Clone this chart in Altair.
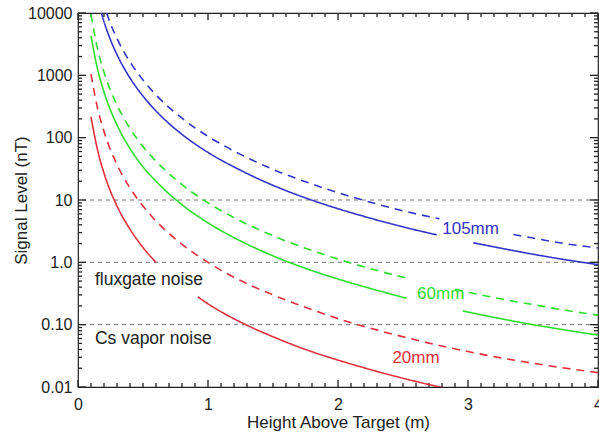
import altair as alt
import pandas as pd

# ---- curve readings: height above target (m) and signal level (nT) ----
# 20 mm object, solid (two pieces, gap around the "fluxgate noise" text)
r_solid_1_h = [0.1, 0.15, 0.2, 0.3, 0.4, 0.5, 0.6]
r_solid_1_v = [216, 64, 27, 8.0, 3.4, 1.73, 1.0]
r_solid_2_h = [0.92, 1.0, 1.25, 1.5, 1.75, 2.0, 2.25, 2.5, 2.8]
r_solid_2_v = [0.28, 0.216, 0.11, 0.064, 0.040, 0.027, 0.019, 0.0138, 0.0098]
# 20 mm object, dashed
r_dash_h = [0.1, 0.15, 0.2, 0.3, 0.4, 0.5, 0.6, 0.8, 1.0, 1.25, 1.5, 1.75, 2.0, 2.5, 3.0, 3.5, 4.0]
r_dash_v = [1050, 300, 126, 37, 15.6, 8.0, 4.6, 1.95, 1.0, 0.51, 0.30, 0.19, 0.125, 0.064, 0.037, 0.024, 0.017]

# 60 mm object, solid
g_solid_1_h = [0.1, 0.15, 0.2, 0.3, 0.4, 0.5, 0.6, 0.8, 1.0, 1.25, 1.5, 1.75, 2.0, 2.25, 2.53]
g_solid_1_v = [4300, 1270, 540, 160, 67, 34, 20, 8.4, 4.3, 2.2, 1.27, 0.80, 0.54, 0.38, 0.265]
g_solid_2_h = [2.96, 3.25, 3.5, 3.75, 4.0]
g_solid_2_v = [0.166, 0.125, 0.10, 0.082, 0.068]
# 60 mm object, dashed
g_dash_1_h = [0.1, 0.15, 0.2, 0.3, 0.4, 0.5, 0.6, 0.8, 1.0, 1.25, 1.5, 1.75, 2.0, 2.25, 2.53]
g_dash_1_v = [9500, 2670, 1125, 333, 141, 72, 42, 17.6, 9.0, 4.6, 2.67, 1.68, 1.125, 0.79, 0.556]
g_dash_2_h = [2.9, 3.25, 3.5, 3.75, 4.0]
g_dash_2_v = [0.37, 0.26, 0.21, 0.17, 0.142]

# 105 mm object, solid
b_solid_1_h = [0.18, 0.2, 0.25, 0.3, 0.4, 0.5, 0.6, 0.8, 1.0, 1.25, 1.5, 1.75, 2.0, 2.25, 2.5, 2.76]
b_solid_1_v = [10000, 7250, 3700, 2150, 906, 464, 268, 113, 58, 30, 17.2, 10.8, 7.25, 5.1, 3.7, 2.76]
b_solid_2_h = [3.04, 3.25, 3.5, 3.75, 4.0]
b_solid_2_v = [2.06, 1.69, 1.35, 1.10, 0.92]
# 105 mm object, dashed
b_dash_1_h = [0.22, 0.25, 0.3, 0.4, 0.5, 0.6, 0.8, 1.0, 1.25, 1.5, 1.75, 2.0, 2.25, 2.5, 2.78]
b_dash_1_v = [10000, 6720, 3890, 1640, 840, 486, 205, 105, 54, 31, 19.6, 13.1, 9.2, 6.7, 5.0]
b_dash_2_h = [3.35, 3.5, 3.75, 4.0]
b_dash_2_v = [2.79, 2.45, 1.99, 1.7]

segments = [
    ("20mm", "solid", "r1", r_solid_1_h, r_solid_1_v),
    ("20mm", "solid", "r2", r_solid_2_h, r_solid_2_v),
    ("20mm", "dashed", "r3", r_dash_h, r_dash_v),
    ("60mm", "solid", "g1", g_solid_1_h, g_solid_1_v),
    ("60mm", "solid", "g2", g_solid_2_h, g_solid_2_v),
    ("60mm", "dashed", "g3", g_dash_1_h, g_dash_1_v),
    ("60mm", "dashed", "g4", g_dash_2_h, g_dash_2_v),
    ("105mm", "solid", "b1", b_solid_1_h, b_solid_1_v),
    ("105mm", "solid", "b2", b_solid_2_h, b_solid_2_v),
    ("105mm", "dashed", "b3", b_dash_1_h, b_dash_1_v),
    ("105mm", "dashed", "b4", b_dash_2_h, b_dash_2_v),
]

# noise levels (nT)
noise_levels = [10, 1.0, 0.1]

# text labels
size_labels = ["105mm", "60mm", "20mm"]
size_label_h = [3.02, 2.79, 2.6]
size_label_v = [3.4, 0.31, 0.029]
noise_labels = ["fluxgate noise", "Cs vapor noise"]
noise_label_h = [0.13, 0.13]
noise_label_v = [0.52, 0.059]

# axis tick positions
x_major = [0, 1, 2, 3, 4]
x_minor = [round(i / 10, 1) for i in range(1, 40) if i % 10 != 0]
y_major = [0.01, 0.1, 1, 10, 100, 1000, 10000]
y_minor = [k * 10.0 ** e for e in range(-2, 4) for k in range(2, 10)]

sizes = ["20mm", "60mm", "105mm"]
colors = ["#e0303c", "#2fdc2f", "#3434c8"]

W, H = 520, 374

rows = []
for size, style, key, hs, vs in segments:
    for h, v in zip(hs, vs):
        rows.append({"h": h, "v": v, "size": size, "style": style, "key": key})
lines_df = pd.DataFrame(rows)
noise_df = pd.DataFrame({"v": noise_levels})
size_lab_df = pd.DataFrame({"label": size_labels, "h": size_label_h, "v": size_label_v})
noise_lab_df = pd.DataFrame({"label": noise_labels, "h": noise_label_h, "v": noise_label_v})
xmaj_df = pd.DataFrame({"h": x_major})
xmin_df = pd.DataFrame({"h": x_minor})
ymaj_df = pd.DataFrame({"v": y_major})
ymin_df = pd.DataFrame({"v": y_minor})

FONT = "Liberation Sans"
xscale = alt.Scale(domain=[0, 4], nice=False, zero=False)
yscale = alt.Scale(type="log", domain=[0.01, 10000], nice=False)
color_scale = alt.Scale(domain=sizes, range=colors)

label_expr = ("datum.value < 0.05 ? '0.01' : datum.value < 0.5 ? '0.10' : "
              "datum.value < 5 ? '1.0' : format(datum.value, 'd')")

# labelled axes carried by an invisible layer
ax_main = alt.Chart(lines_df).mark_point(opacity=0).encode(
    x=alt.X("h:Q", scale=xscale,
            axis=alt.Axis(orient="bottom", values=x_major, format="d", ticks=False, domain=False,
                          grid=False, labelFlush=False, labelPadding=9, labelFont=FONT,
                          labelFontSize=16, labelColor="#222", title="Height Above Target (m)",
                          titleFont=FONT, titleFontSize=17, titleFontWeight="normal",
                          titleColor="#222", titlePadding=2)),
    y=alt.Y("v:Q", scale=yscale,
            axis=alt.Axis(orient="left", values=y_major, labelExpr=label_expr, ticks=False,
                          domain=False, grid=False, labelFlush=False, labelPadding=6,
                          labelFont=FONT, labelFontSize=16, labelColor="#222",
                          title="Signal Level (nT)", titleFont=FONT, titleFontSize=17,
                          titleFontWeight="normal", titleColor="#222", titlePadding=-3)),
)

# inward tick marks on all four sides
TICK_STYLE = dict(color="#222", strokeWidth=1.3)


def x_ticks(df, length):
    bottom = alt.Chart(df).mark_rule(**TICK_STYLE).encode(
        x=alt.X("h:Q", scale=xscale, axis=None), y=alt.value(H), y2=alt.value(H - length))
    top = alt.Chart(df).mark_rule(**TICK_STYLE).encode(
        x=alt.X("h:Q", scale=xscale, axis=None), y=alt.value(0), y2=alt.value(length))
    return [bottom, top]


def y_ticks(df, length):
    left = alt.Chart(df).mark_rule(**TICK_STYLE).encode(
        y=alt.Y("v:Q", scale=yscale, axis=None), x=alt.value(0), x2=alt.value(length))
    right = alt.Chart(df).mark_rule(**TICK_STYLE).encode(
        y=alt.Y("v:Q", scale=yscale, axis=None), x=alt.value(W), x2=alt.value(W - length))
    return [left, right]


tick_layers = x_ticks(xmaj_df, 7) + x_ticks(xmin_df, 4) + y_ticks(ymaj_df, 8) + y_ticks(ymin_df, 4)

noise_rules = alt.Chart(noise_df).mark_rule(
    color="#777", strokeDash=[4, 4], strokeWidth=1
).encode(y=alt.Y("v:Q", scale=yscale, axis=None))

lines = alt.Chart(lines_df).mark_line(interpolate="monotone", strokeWidth=1.6, clip=True).encode(
    x=alt.X("h:Q", scale=xscale, axis=None),
    y=alt.Y("v:Q", scale=yscale, axis=None),
    color=alt.Color("size:N", scale=color_scale, legend=None),
    strokeDash=alt.StrokeDash("style:N", scale=alt.Scale(domain=["solid", "dashed"],
                                                          range=[[1, 0], [8, 6]]), legend=None),
    detail="key:N",
)

size_text = alt.Chart(size_lab_df).mark_text(font=FONT, fontSize=17, align="center",
                                             baseline="middle").encode(
    x=alt.X("h:Q", scale=xscale, axis=None),
    y=alt.Y("v:Q", scale=yscale, axis=None),
    text="label:N",
    color=alt.Color("label:N", scale=color_scale, legend=None),
)

noise_text = alt.Chart(noise_lab_df).mark_text(font=FONT, fontSize=17.5, align="left",
                                               baseline="middle", color="#222").encode(
    x=alt.X("h:Q", scale=xscale, axis=None),
    y=alt.Y("v:Q", scale=yscale, axis=None),
    text="label:N",
)

chart = alt.layer(
    ax_main, noise_rules, *tick_layers, lines, size_text, noise_text
).resolve_axis(
    x="independent", y="independent"
).properties(
    width=W, height=H,
    autosize=alt.AutoSizeParams(type="none"),
    padding={"left": 78, "top": 13, "right": 1, "bottom": 50},
    background="white",
).configure_view(
    stroke="#222", strokeWidth=1.2
)

chart.save("out.html", embed_options={"renderer": "svg", "actions": False})
